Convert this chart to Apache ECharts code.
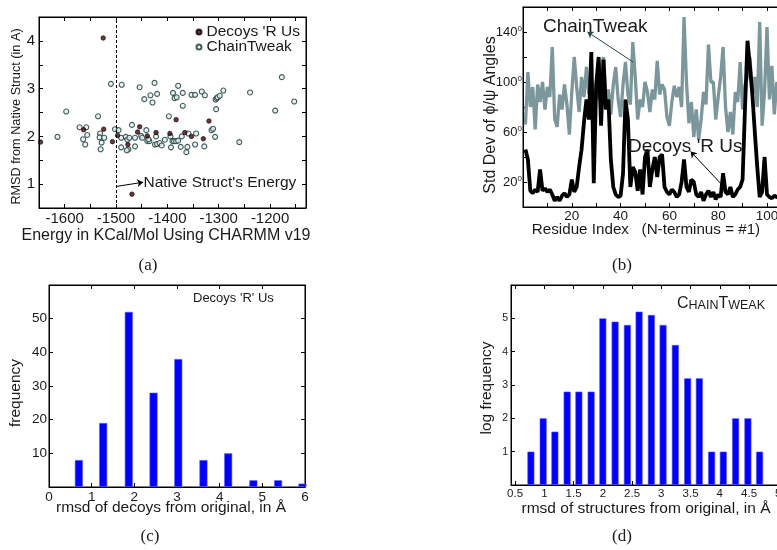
<!DOCTYPE html>
<html><head><meta charset="utf-8">
<script src="https://cdn.jsdelivr.net/npm/echarts@6/dist/echarts.min.js"></script>
<style>html,body{margin:0;padding:0;background:#fff}#c{width:777px;height:550px}</style>
</head><body><div id="c"></div>
<script>
// ---------- (a) scatter: energy vs RMSD ----------
const aDecoyEnergy = [-1647,-1525,-1563,-1524,-1507,-1497,-1477,-1458,-1454,-1439,-1422,-1469,-1395,-1383,-1366,-1353,-1330,-1319];
const aDecoyRmsd   = [1.88,4.06,2.14,2.15,1.89,2.02,1.83,2.09,2.20,2.01,2.08,0.79,2.06,2.35,2.08,2.00,1.95,2.32];
const aTweakEnergy = [-1614,-1597,-1571,-1558,-1564,-1556,-1560,-1535,-1531,-1532,-1528,-1530,-1523,-1510,-1489,-1502,-1495,-1490,-1490,-1481,-1478,-1476,-1479,-1469,-1474,-1463,-1463,-1454,-1451,-1449,-1445,-1441,-1439,-1435,-1437,-1433,-1429,-1425,-1420,-1422,-1424,-1420,-1415,-1411,-1405,-1397,-1393,-1394,-1390,-1387,-1383,-1389,-1386,-1379,-1382,-1370,-1370,-1353,-1346,-1333,-1327,-1379,-1372,-1359,-1374,-1363,-1361,-1346,-1344,-1328,-1314,-1311,-1307,-1305,-1306,-1304,-1302,-1298,-1291,-1260,-1239,-1190,-1177,-1153];
const aTweakRmsd   = [1.99,2.52,2.19,2.19,1.94,2.03,1.83,2.42,2.06,1.98,1.87,1.73,1.97,3.10,3.08,2.15,2.13,1.97,1.77,1.99,1.93,1.73,1.71,2.24,1.97,1.79,1.97,3.03,2.01,1.97,2.78,2.13,1.90,1.90,1.94,2.86,2.71,3.12,2.89,2.00,1.83,1.84,1.86,1.81,1.93,2.42,1.77,2.00,1.90,1.90,1.90,2.91,2.80,3.06,2.82,2.91,2.64,2.87,2.87,2.94,2.86,1.91,2.00,2.06,1.78,1.67,1.78,1.83,2.06,1.79,2.13,2.16,1.99,2.57,2.77,2.80,2.82,2.85,2.96,1.88,2.92,2.54,3.24,2.73];
const aNativeEnergy = -1500;
const aXTicks = [-1650,-1600,-1550,-1500,-1450,-1400,-1350,-1300,-1250,-1200,-1150];
const aXLabels = [-1600,-1500,-1400,-1300,-1200];
const aYTicks = [1,1.5,2,2.5,3,3.5,4];
const aYLabels = [1,2,3,4];

// ---------- (b) per-residue std dev of phi/psi ----------
const bResidue = [1,2,3,4,5,6,7,8,9,10,11,12,13,14,15,16,17,18,19,20,21,22,23,24,25,26,27,28,29,30,31,32,33,34,35,36,37,38,39,40,41,42,43,44,45,46,47,48,49,50,51,52,53,54,55,56,57,58,59,60,61,62,63,64,65,66,67,68,69,70,71,72,73,74,75,76,77,78,79,80,81,82,83,84,85,86,87,88,89,90,91,92,93,94,95,96,97,98,99,100,101,102,103,104,105,106];
const bChainTweak = [66,108,80,96,62,98,84,100,78,96,88,128,70,64,90,78,98,82,58,92,120,96,76,104,88,112,90,104,78,96,86,110,120,84,94,74,98,112,86,72,98,116,90,82,132,104,70,86,80,100,92,76,94,86,117,90,98,94,72,65,84,97,88,96,80,152,100,67,84,56,78,54,70,92,82,130,100,100,70,88,104,128,80,60,76,58,92,84,116,78,98,104,120,90,104,80,148,65,92,144,86,113,74,100,88,96];
const bDecoys = [46,38,13,11,14,12,30,13,15,12,14,10,5,8,5,9,11,8,10,22,12,16,32,46,68,86,70,124,19,98,120,65,118,78,86,38,16,10,8,9,27,86,70,16,32,28,13,30,10,40,46,16,30,40,24,40,42,16,12,10,14,12,8,10,20,38,16,12,22,20,10,8,12,5,10,13,8,12,6,10,8,27,12,10,16,8,10,14,16,22,80,133,113,90,60,32,8,12,40,10,8,7,9,8,8,9];
const bXTicks = [10,20,30,40,50,60,70,80,90,100];
const bXLabels = [20,40,60,80,100];
const bYTicks = [20,40,60,80,100,120,140];
const bYLabels = [20,60,100,140];

// ---------- (c) histogram, Decoys 'R' Us ----------
const cRmsd = [0.70,1.27,1.87,2.45,3.03,3.62,4.20,4.79,5.37,5.94];
const cFreq = [8,19,52,28,38,8,10,2,2,1];
const cXLabels = [0,1,2,3,4,5,6];
const cYLabels = [10,20,30,40,50];

// ---------- (d) histogram, ChainTweak ----------
const dRmsd = [0.77,0.98,1.18,1.39,1.59,1.80,2.00,2.21,2.42,2.62,2.83,3.03,3.24,3.45,3.65,3.86,4.06,4.27,4.48,4.68];
const dLogFreq = [1,2,1.6,2.8,2.8,2.8,5.0,4.9,4.8,5.2,5.1,4.8,4.2,3.2,3.2,1.0,1.0,2.0,2.0,1.0];
const dXLabels = [0.5,1,1.5,2,2.5,3,3.5,4,4.5,5];
const dYLabels = [1,2,3,4,5];

const FONT = '"Liberation Sans", Arial, Helvetica, sans-serif';
const SERIF = '"Liberation Serif", "DejaVu Serif", serif';
const TXT = '#1a1a1a';
const zip = (a, b) => a.map((v, i) => [v, b[i]]);
const plain = v => String(v);

function axis(grid, min, max, ticks, labels, fs, margin, pos, fmt, rich) {
  return {
    type: 'value', gridIndex: grid, min: min, max: max, position: pos,
    axisLine: {show: true, onZero: false, lineStyle: {color: '#000', width: 1}},
    axisTick: {show: true, inside: true, length: 4, customValues: ticks, lineStyle: {color: '#000', width: 1}},
    axisLabel: labels ? {show: true, customValues: labels, fontSize: fs, fontFamily: FONT, color: TXT, margin: margin, formatter: fmt || plain, rich: rich} : {show: false},
    splitLine: {show: false}
  };
}

const chart = echarts.init(document.getElementById('c'), null, {renderer: 'canvas'});

const gbase = {show: true, borderColor: '#000', borderWidth: 1, containLabel: false, outerBoundsMode: 'none'};
const grids = [
  Object.assign({left: 39, top: 17, width: 267, height: 191}, gbase),
  Object.assign({left: 523, top: 7, width: 268.4, height: 200}, gbase),
  Object.assign({left: 49, top: 285, width: 256, height: 202}, gbase),
  Object.assign({left: 511, top: 285, width: 279, height: 200}, gbase)
];

const degRich = {
  n: {fontSize: 13, fontFamily: FONT, color: TXT, verticalAlign: 'bottom', lineHeight: 14},
  s: {fontSize: 8, fontFamily: FONT, color: TXT, verticalAlign: 'top', lineHeight: 8}
};

const xAxes = [
  axis(0, -1650, -1130, aXTicks, aXLabels, 15, 3, 'bottom'),
  axis(0, -1650, -1130, aXTicks, null, 0, 0, 'top'),
  axis(1, 0, 110, bXTicks, bXLabels, 13.5, 2, 'bottom'),
  axis(1, 0, 110, bXTicks, null, 0, 0, 'top'),
  axis(2, 0, 6, [1,2,3,4,5], cXLabels, 13.5, 3, 'bottom'),
  axis(2, 0, 6, [1,2,3,4,5], null, 0, 0, 'top'),
  axis(3, 0.43, 5.2, dXLabels, dXLabels, 11.5, 3, 'bottom'),
  axis(3, 0.43, 5.2, dXLabels, null, 0, 0, 'top')
];
const yAxes = [
  axis(0, 0.5, 4.5, aYTicks, aYLabels, 15, 4, 'left'),
  axis(0, 0.5, 4.5, aYTicks, null, 0, 0, 'right'),
  axis(1, 0, 160, bYTicks, bYLabels, 13, 1, 'left', v => '{n|' + v + '}{s|0}', degRich),
  axis(2, 0, 60, cYLabels, cYLabels, 13.5, 2, 'left'),
  axis(2, 0, 60, cYLabels, null, 0, 0, 'right'),
  axis(3, 0, 6, dYLabels, dYLabels, 10.5, 3, 'left')
];

const series = [
  {
    name: 'ChainTweak', type: 'scatter', xAxisIndex: 0, yAxisIndex: 0,
    data: zip(aTweakEnergy, aTweakRmsd), symbol: 'circle', symbolSize: 5,
    itemStyle: {color: '#e4f1ef', borderColor: '#163636', borderWidth: 1.1},
    markLine: {
      silent: true, symbol: 'none', label: {show: false},
      lineStyle: {color: '#000', type: [3, 2], width: 1},
      data: [{xAxis: aNativeEnergy}]
    }
  },
  {
    name: "Decoys 'R Us", type: 'scatter', xAxisIndex: 0, yAxisIndex: 0,
    data: zip(aDecoyEnergy, aDecoyRmsd), symbol: 'circle', symbolSize: 4.5,
    itemStyle: {color: '#4a0606', borderColor: '#000', borderWidth: 0.8},
    markLine: {
      silent: true, symbol: ['none', 'arrow'], symbolSize: 6, label: {show: false},
      lineStyle: {color: '#000', type: 'solid', width: 1, curveness: 0.25},
      data: [[{coord: [aNativeEnergy, 0.95]}, {coord: [-1447, 1.04]}]]
    }
  },
  {
    name: 'ChainTweak (b)', type: 'line', xAxisIndex: 2, yAxisIndex: 2,
    data: zip(bResidue, bChainTweak), showSymbol: false, symbol: 'none',
    lineStyle: {color: '#7b979c', width: 3.3}, itemStyle: {color: '#7b979c'},
    markLine: {
      silent: true, symbol: ['none', 'arrow'], symbolSize: 6, label: {show: false},
      lineStyle: {color: '#234848', type: 'solid', width: 1, curveness: 0.2},
      data: [[{coord: [45.2, 115.9]}, {coord: [26.4, 140.1]}]]
    }
  },
  {
    name: "Decoys 'R Us (b)", type: 'line', xAxisIndex: 2, yAxisIndex: 2,
    data: zip(bResidue, bDecoys), showSymbol: false, symbol: 'none',
    lineStyle: {color: '#000', width: 3.8}, itemStyle: {color: '#000'},
    markLine: {
      silent: true, symbol: ['none', 'arrow'], symbolSize: 6, label: {show: false},
      lineStyle: {color: '#000', type: 'solid', width: 1, curveness: 0},
      data: [[{coord: [81, 18.9]}, {coord: [68.7, 44.4]}]]
    }
  },
  {
    name: 'freq (c)', type: 'bar', xAxisIndex: 4, yAxisIndex: 3,
    data: zip(cRmsd, cFreq), barWidth: 8,
    itemStyle: {color: '#0000ff', borderColor: '#5a5aff', borderWidth: 0.6}
  },
  {
    name: 'logfreq (d)', type: 'bar', xAxisIndex: 6, yAxisIndex: 5,
    data: zip(dRmsd, dLogFreq), barWidth: 7,
    itemStyle: {color: '#0000ff', borderColor: '#5a5aff', borderWidth: 0.6}
  }
];

function txt(x, y, text, size, opts) {
  opts = opts || {};
  return {
    type: 'text', x: x, y: y, rotation: opts.rot || 0, z: 100,
    style: {
      text: text, font: size + 'px ' + (opts.family || FONT), fill: TXT,
      align: opts.align || 'center', verticalAlign: 'middle', rich: opts.rich
    }
  };
}

const graphic = [
  // (a)
  txt(166, 236, 'Energy in KCal/Mol Using CHARMM v19', 16),
  txt(16, 116.5, 'RMSD from Native Struct (in A)', 12.7, {rot: Math.PI / 2}),
  txt(143.5, 183, "Native Struct's Energy", 15.5, {align: 'left'}),
  txt(148, 266, '(a)', 17, {family: SERIF}),
  // (b)
  txt(491, 115, 'Std Dev of \u03d5/\u03c8 Angles', 16, {rot: Math.PI / 2}),
  txt(646, 230, 'Residue Index   (N-terminus = #1)', 15.2),
  txt(543, 27, 'ChainTweak', 19, {align: 'left'}),
  txt(628, 147, "Decoys 'R Us", 19, {align: 'left'}),
  txt(622, 266, '(b)', 17, {family: SERIF}),
  // (c)
  txt(193, 298.5, "Decoys 'R' Us", 13, {align: 'left'}),
  txt(16, 393, 'frequency', 15.5, {rot: Math.PI / 2}),
  txt(171, 508, 'rmsd of decoys from original, in \u00c5', 15.5),
  txt(150, 537, '(c)', 17, {family: SERIF}),
  // (d)
  txt(677, 304, '{b|C}{s|HAIN}{b|T}{s|WEAK}', 16, {align: 'left', rich: {
    b: {fontSize: 16, fontFamily: FONT, fill: TXT, verticalAlign: 'bottom', lineHeight: 16},
    s: {fontSize: 12.5, fontFamily: FONT, fill: TXT, verticalAlign: 'bottom', lineHeight: 13.5}
  }}),
  txt(487, 388, 'log frequency', 15.5, {rot: Math.PI / 2}),
  txt(646, 509, 'rmsd of structures from original, in \u00c5', 15.5),
  txt(622, 537, '(d)', 17, {family: SERIF})
];

chart.setOption({
  animation: false,
  backgroundColor: '#fff',
  textStyle: {fontFamily: FONT},
  grid: grids,
  xAxis: xAxes,
  yAxis: yAxes,
  legend: {
    data: ["Decoys 'R Us", 'ChainTweak'], orient: 'vertical', left: 195.5, top: 24,
    padding: 0, itemWidth: 5, itemHeight: 5, itemGap: -1, icon: 'circle',
    textStyle: {fontSize: 15.5, fontFamily: FONT, color: TXT, lineHeight: 12}
  },
  series: series,
  graphic: graphic
});
</script></body></html>
